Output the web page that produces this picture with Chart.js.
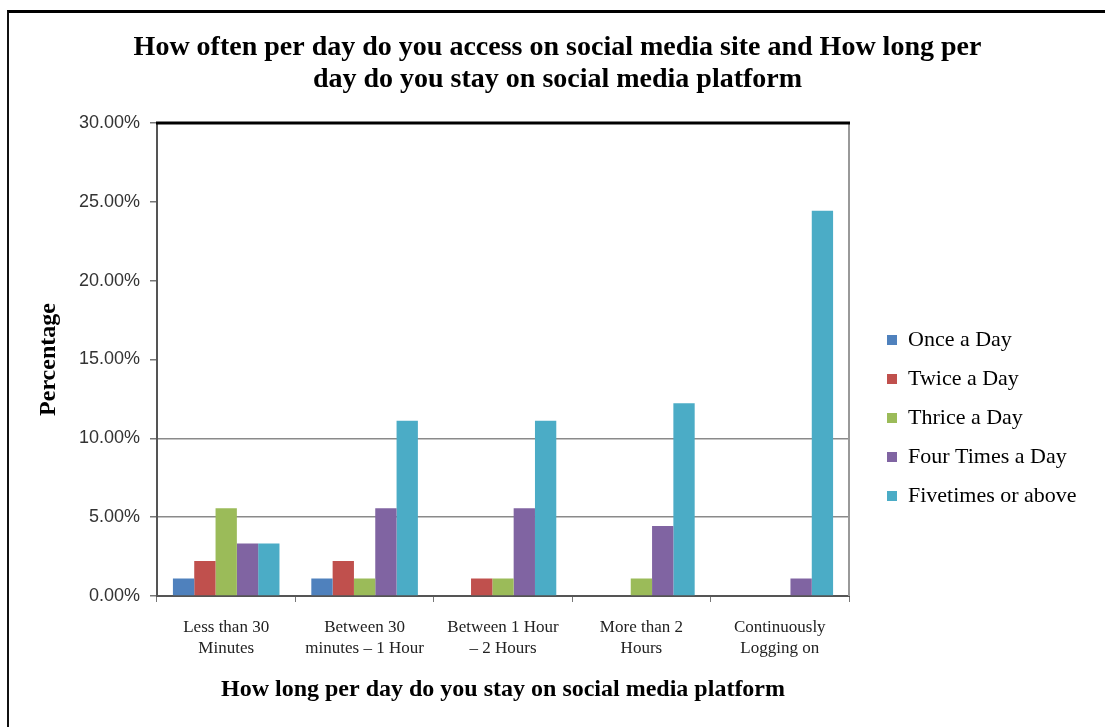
<!DOCTYPE html>
<html>
<head>
<meta charset="utf-8">
<script src="https://cdn.jsdelivr.net/npm/chart.js@4.4.0/dist/chart.umd.min.js"></script>
<style>
  body { margin: 0; background: #fff; }
  #wrap { position: relative; width: 1105px; height: 727px; overflow: hidden; }
  #frame { position: absolute; left: 7px; top: 10px; width: 1096px; height: 800px;
           border-top: 3px solid #000; border-left: 2px solid #111; border-right: 1px solid #ccc; }
  #chart { position: absolute; left: 0; top: 0; }
</style>
</head>
<body>
<div id="wrap">
  <div id="frame"></div>
  <canvas id="chart" width="1105" height="727"></canvas>
</div>
<script>
// how long per day on the platform
const categories = [
  ['Less than 30', 'Minutes'],
  ['Between 30', 'minutes \u2013 1 Hour'],
  ['Between 1 Hour', '\u2013 2 Hours'],
  ['More than 2', 'Hours'],
  ['Continuously', 'Logging on']
];
// values in percent
const onceADay = [1.11, 1.11, 0, 0, 0];
const twiceADay = [2.22, 2.22, 1.11, 0, 0];
const thriceADay = [5.56, 1.11, 1.11, 1.11, 0];
const fourTimesADay = [3.33, 5.56, 5.56, 4.44, 1.11];
const fiveTimesOrAbove = [3.33, 11.11, 11.11, 12.22, 24.44];
const yTicks = [0, 5, 10, 15, 20, 25, 30];

const serif = "'Liberation Serif', 'Times New Roman', serif";

// top and right edges of the plot box (chart.js only draws left/bottom)
const plotBox = {
  id: 'plotBox',
  afterDraw(chart) {
    const {ctx, chartArea: a} = chart;
    ctx.save();
    ctx.strokeStyle = '#999';
    ctx.lineWidth = 2;
    ctx.beginPath();
    ctx.moveTo(a.right, a.top);
    ctx.lineTo(a.right, a.bottom);
    ctx.stroke();
    ctx.strokeStyle = '#000';
    ctx.lineWidth = 3;
    ctx.beginPath();
    ctx.moveTo(a.left - 1, a.top);
    ctx.lineTo(a.right + 1, a.top);
    ctx.stroke();
    ctx.restore();
  }
};

// layout caps the legend at a sixth of the width, give it the room it had
const legendWidth = {
  id: 'legendWidth',
  beforeLayout(chart) {
    const lg = chart.legend;
    if (lg && !lg._wide) {
      const fit = lg.fit.bind(lg);
      lg.fit = function() { fit(); this.width = 235; };
      lg._wide = true;
    }
  }
};

new Chart(document.querySelector('#chart'), {
  type: 'bar',
  data: {
    labels: categories,
    datasets: [
      {label: 'Once a Day', data: onceADay, backgroundColor: '#4F81BD'},
      {label: 'Twice a Day', data: twiceADay, backgroundColor: '#C0504D'},
      {label: 'Thrice a Day', data: thriceADay, backgroundColor: '#9BBB59'},
      {label: 'Four Times a Day', data: fourTimesADay, backgroundColor: '#8064A2'},
      {label: 'Fivetimes or above', data: fiveTimesOrAbove, backgroundColor: '#4BACC6'}
    ]
  },
  options: {
    responsive: false,
    animation: false,
    categoryPercentage: 0.77,
    barPercentage: 1.0,
    layout: {padding: {left: 10, top: 10, bottom: 10, right: 0}},
    scales: {
      x: {
        grid: {offset: true, drawOnChartArea: false, tickColor: '#777', tickLength: 6},
        border: {color: '#555', width: 2},
        ticks: {
          color: '#222', padding: 16, maxRotation: 0, autoSkip: false,
          font: {family: serif, size: 17, lineHeight: 1.18}
        },
        title: {
          display: true, text: 'How long per day do you stay on social media platform',
          color: '#000', font: {family: serif, size: 24, weight: 'bold', lineHeight: 1.2},
          padding: {top: 0, bottom: 13}
        },
        afterFit(scale) { scale.height = 121; }
      },
      y: {
        min: 0, max: 30,
        afterBuildTicks(scale) { scale.ticks = yTicks.map(v => ({value: v})); },
        grid: {
          color: ctx => (ctx.tick && (ctx.tick.value === 5 || ctx.tick.value === 10)) ? '#8a8a8a' : 'rgba(0,0,0,0)',
          lineWidth: 1.5, tickColor: '#777', tickLength: 7
        },
        border: {color: '#555', width: 2},
        ticks: {
          color: '#333', padding: 10,
          font: {family: "'Liberation Sans', Arial, sans-serif", size: 18},
          callback: v => v.toFixed(2) + '%'
        },
        title: {
          display: true, text: 'Percentage', color: '#000',
          font: {family: serif, size: 24, weight: 'bold', lineHeight: 1.2},
          padding: {top: 24, bottom: 0}
        },
        afterFit(scale) { scale.width = 147; }
      },
      gap: {
        type: 'linear', position: 'right', display: true,
        grid: {display: false}, border: {display: false}, ticks: {display: false},
        afterFit(scale) { scale.width = 21; }
      }
    },
    plugins: {
      title: {
        display: true,
        text: ['How often per day do you access on social media site and How long per',
               'day do you stay on social media platform'],
        color: '#000',
        font: {family: serif, size: 28, weight: 'bold', lineHeight: 1.143},
        padding: {top: 22, bottom: 27}
      },
      legend: {
        position: 'right', align: 'center',
        title: {display: true, text: ' ', font: {size: 10, lineHeight: 1.2}, padding: {top: 97, bottom: 0}},
        labels: {
          boxWidth: 10, boxHeight: 10, padding: 17, color: '#000',
          font: {family: serif, size: 22}
        }
      },
      tooltip: {enabled: false}
    }
  },
  plugins: [plotBox, legendWidth]
});
</script>
</body>
</html>
